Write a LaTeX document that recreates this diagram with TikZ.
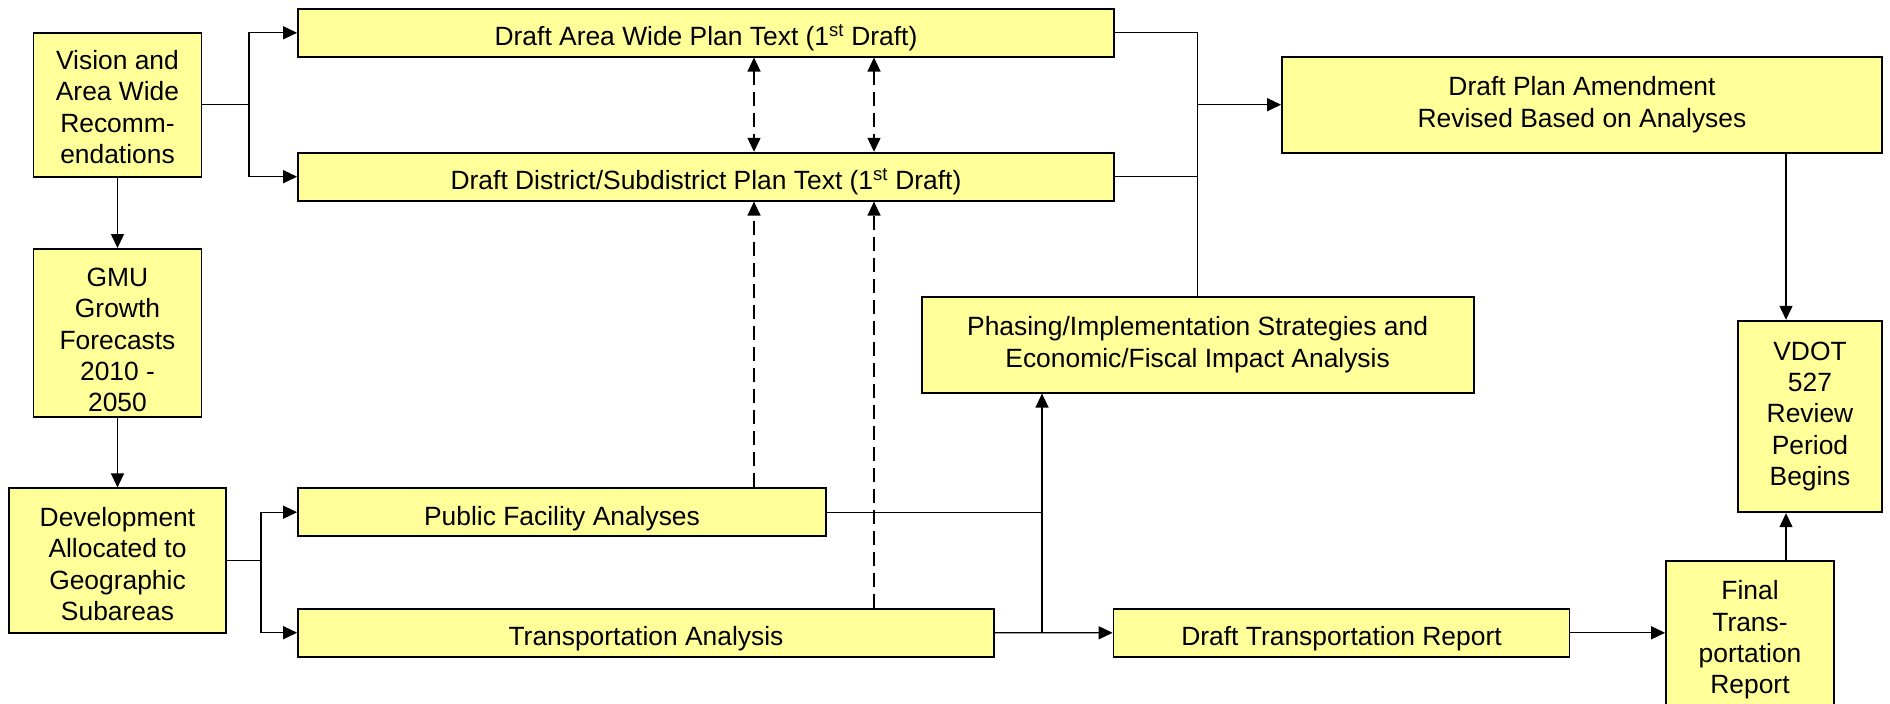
\documentclass[tikz,border=0pt]{standalone}
\usepackage{fontspec}
\setmainfont{Liberation Sans}
\usetikzlibrary{arrows.meta}
\definecolor{boxyellow}{HTML}{FFFF99}
\newcommand\mystrut[1]{\rule{0pt}{#1}}
\begin{document}
\begin{tikzpicture}[x=1pt,y=-1pt,
  >={Triangle[length=14pt,width=13pt]},
  box/.style={draw=black, line width=1.8pt, fill=boxyellow, inner sep=0pt, align=center,
    font=\fontsize{26.4}{31.3}\selectfont},
  conn/.style={line width=1.3pt, ->},
  plain/.style={line width=1.3pt},
  dashconn/.style={line width=1.3pt, dash pattern=on 14pt off 7pt}]
\fill[white] (0,0) rectangle (1890,704);
\useasboundingbox (0,0) rectangle (1890,704);

\node[box, minimum width=168pt, minimum height=144pt] (vision) at (117.5,104.7) {\mystrut{24pt}Vision and\\Area Wide\\Recomm-\\endations};
\node[box, minimum width=816pt, minimum height=47.7pt] (area) at (706,32.8) {\mystrut{31.2pt}Draft Area Wide Plan Text (1\textsuperscript{st} Draft)};
\node[box, minimum width=816pt, minimum height=48pt] (district) at (706,176.7) {\mystrut{31.2pt}Draft District/Subdistrict Plan Text (1\textsuperscript{st} Draft)};
\node[box, minimum width=600pt, minimum height=96pt] (amend) at (1582,104.7) {Draft Plan Amendment\\Revised Based on Analyses};
\node[box, minimum width=168pt, minimum height=167.7pt] (gmu) at (117.5,332.8) {\mystrut{33pt}GMU\\Growth\\Forecasts\\2010 -\\2050};
\node[box, minimum width=552pt, minimum height=96pt] (phasing) at (1197.6,344.7) {Phasing/Implementation Strategies and\\Economic/Fiscal Impact Analysis};
\node[box, minimum width=144pt, minimum height=191.6pt] (vdot) at (1810,416.5) {VDOT\\527\\Review\\Period\\Begins};
\node[box, minimum width=216.3pt, minimum height=144.4pt] (dev) at (117.5,560.5) {\mystrut{26.4pt}Development\\Allocated to\\Geographic\\Subareas};
\node[box, minimum width=528pt, minimum height=47.7pt] (pfa) at (562,512.2) {\mystrut{31.2pt}Public Facility Analyses};
\node[box, minimum width=696pt, minimum height=48pt] (ta) at (646,632.7) {\mystrut{31.2pt}Transportation Analysis};
\node[box, minimum width=456pt, minimum height=48pt] (dtr) at (1341.5,632.8) {\mystrut{31.2pt}Draft Transportation Report};
\node[box, minimum width=168pt, minimum height=148pt] (final) at (1750,635) {\mystrut{28.8pt}Final\\Trans-\\portation\\Report};

% left branches
\coordinate (vb) at (249,104.7);
\draw[plain] (vision.east) -- (vb);
\draw[conn] (vb) |- (area.west);
\draw[conn] (vb) |- (district.west);
\draw[conn] (vision.south) -- (gmu.north);
\draw[conn] (gmu.south) -- (dev.north);
\coordinate (db) at (261,560.5);
\draw[plain] (dev.east) -- (db);
\draw[conn] (db) |- (pfa.west);
\draw[conn] (db) |- (ta.west);

% dashed links
\coordinate (d1) at (754,0);
\coordinate (d2) at (874,0);
\draw[dashconn, <->] (area.south -| d1) -- (district.north -| d1);
\draw[dashconn, <->] (area.south -| d2) -- (district.north -| d2);
\draw[dashconn, ->] (pfa.north -| d1) -- (district.south -| d1);
\draw[dashconn, ->] (ta.north -| d2) -- (district.south -| d2);

% right side
\draw[plain] (area.east) -| (phasing.north);
\draw[plain] (district.east) -- (district.east -| phasing.north);
\draw[conn] (amend.west -| phasing.north) -- (amend.west);
\coordinate (vx) at (1786,0);
\draw[conn] (amend.south -| vx) -- (vdot.north -| vx);
\draw[conn] (final.north -| vx) -- (vdot.south -| vx);
\coordinate (jx) at (1042,632.7);
\draw[plain] (pfa.east) -- (pfa.east -| jx);
\draw[conn] (ta.east) -- (dtr.west);
\draw[conn] (jx) -- (phasing.south -| jx);
\draw[conn] (dtr.east) -- (final.west |- dtr.east);
\end{tikzpicture}
\end{document}
